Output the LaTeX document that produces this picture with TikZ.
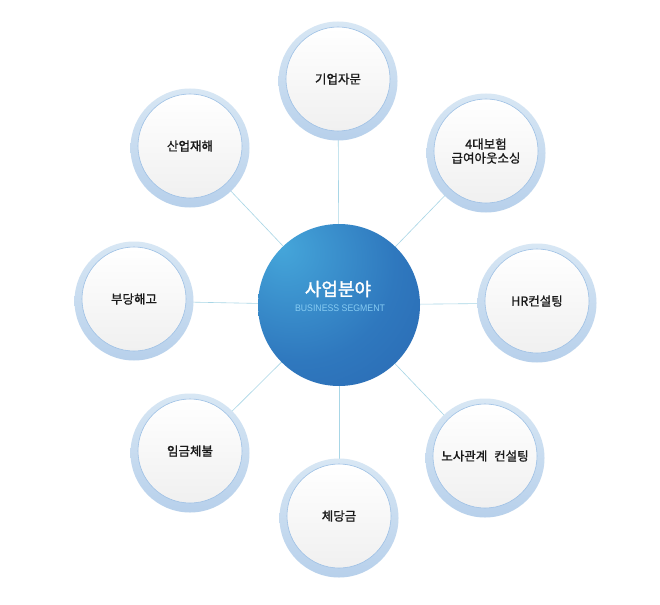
\documentclass[tikz,border=0pt]{standalone}
\usepackage{fontspec}
\setmainfont{Liberation Sans}
\newfontfamily\kr{Noto Sans CJK KR}[FakeBold=1.3]
\newfontfamily\krt{Noto Sans CJK KR}[FakeBold=1.6]
\usetikzlibrary{backgrounds}
\definecolor{hubA}{HTML}{45A6DA}
\definecolor{hubB}{HTML}{2F78BE}
\definecolor{hubC}{HTML}{2760AC}
\definecolor{ringTop}{HTML}{D8E7F4}
\definecolor{ringBot}{HTML}{B7D0EB}
\definecolor{discEdge}{HTML}{9DC0E5}
\definecolor{discBot}{HTML}{F0F0F0}
\definecolor{connC}{HTML}{A8D6E6}
\definecolor{subC}{HTML}{86CBF2}
\definecolor{txt}{HTML}{1A1A1A}
\pgfdeclareradialshading{hubshade}{\pgfpoint{-18bp}{18bp}}{color(0bp)=(hubA); color(30bp)=(hubB); color(62bp)=(hubC); color(100bp)=(hubC)}
\tikzset{
  ring/.style={circle, minimum size=119pt, inner sep=0pt, shading=axis, top color=ringTop, bottom color=ringBot},
  disc/.style={circle, minimum size=104pt, inner sep=0pt, draw=discEdge, line width=0.6pt, shading=axis, top color=white, middle color=white, bottom color=discBot, font=\kr\fontsize{12.5}{14}\selectfont, text=txt, align=center},
  hubnode/.style={circle, minimum size=162pt, inner sep=0pt, shading=hubshade},
  conn/.style={draw=connC, line width=0.6pt}
}
\begin{document}
\begin{tikzpicture}[x=1pt,y=-1pt]
\useasboundingbox (0,0) rectangle (660,604);
\node[hubnode] (hub) at (339,305) {};
\node[font=\krt\fontsize{18}{20}\selectfont, text=white] (title) at (338,289) {사업분야};
\node[font=\fontsize{9.5}{10}\selectfont, text=subC] (sub) at (340,308) {\scalebox{0.92}[1]{BUSINESS SEGMENT}};
% outer rings
\node[ring] (r1) at (338,81) {};
\node[ring] (r2) at (486,153) {};
\node[ring] (r3) at (537,303) {};
\node[ring] (r4) at (485,458) {};
\node[ring] (r5) at (339,518) {};
\node[ring] (r6) at (190,453) {};
\node[ring] (r7) at (134,301) {};
\node[ring] (r8) at (190,148) {};
% inner discs with labels
\node[disc] (d1) at ([yshift=2pt]r1.center) {기업자문};
\node[disc] (d2) at ([yshift=2pt]r2.center) {4대보험\\급여아웃소싱};
\node[disc] (d3) at ([yshift=2pt]r3.center) {HR컨설팅};
\node[disc] (d4) at ([yshift=2pt]r4.center) {노사관계\hspace{4pt} 컨설팅};
\node[disc] (d5) at ([yshift=2pt]r5.center) {체당금};
\node[disc] (d6) at ([yshift=2pt]r6.center) {임금체불};
\node[disc] (d7) at ([yshift=2pt]r7.center) {부당해고};
\node[disc] (d8) at ([yshift=2pt]r8.center) {산업재해};
\begin{scope}[on background layer]
\fill[white] (0,0) rectangle (660,604);
\foreach \r in {r1,r2,r3,r4,r5,r6,r7,r8}{\draw[conn] (hub.center) -- (\r.center);}
\end{scope}
\end{tikzpicture}
\end{document}
